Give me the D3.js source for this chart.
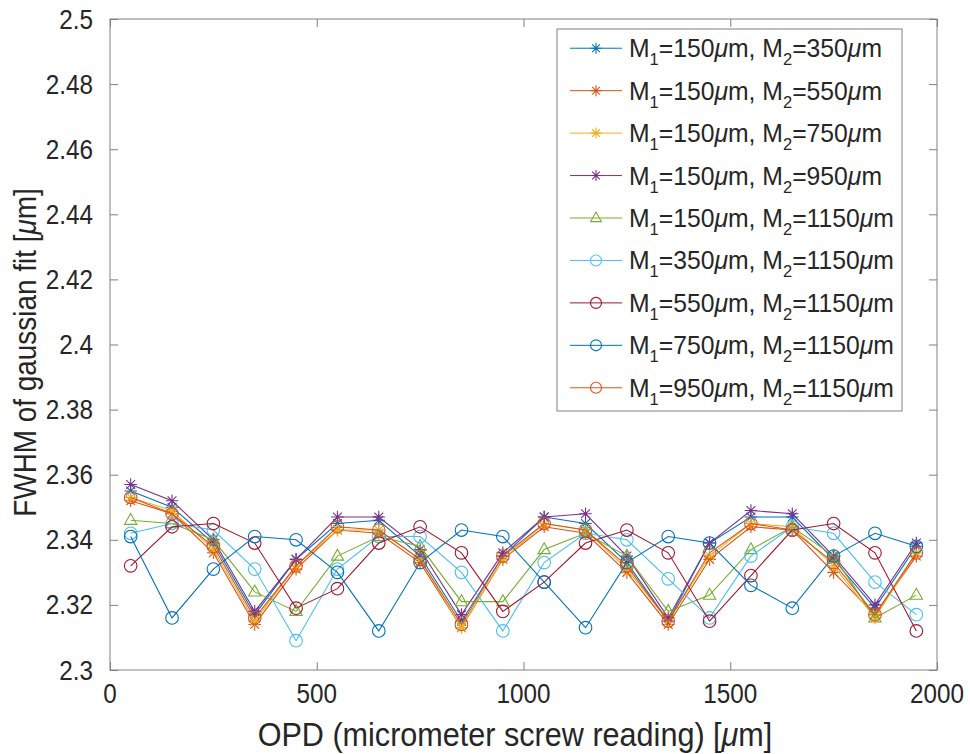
<!DOCTYPE html>
<html>
<head>
<meta charset="utf-8">
<script src="https://cdn.jsdelivr.net/npm/d3@7"></script>
<style>
  body { margin: 0; background: #fff; }
  text { font-family: "Liberation Sans", Arial, sans-serif; fill: #262626; }
</style>
</head>
<body>
<div id="chart"></div>
<script>
// OPD positions (micrometer screw reading)
const opd = [50, 150, 250, 350, 450, 550, 650, 750, 850, 950, 1050, 1150, 1250, 1350, 1450, 1550, 1650, 1750, 1850, 1950];

// FWHM values per mirror pair
const s150_350  = [2.355, 2.350, 2.339, 2.317, 2.334, 2.345, 2.346, 2.335, 2.315, 2.335, 2.347, 2.345, 2.333, 2.315, 2.339, 2.347, 2.347, 2.334, 2.319, 2.338];
const s150_550  = [2.352, 2.348, 2.336, 2.314, 2.331, 2.343, 2.342, 2.333, 2.313, 2.334, 2.344, 2.342, 2.330, 2.314, 2.334, 2.344, 2.343, 2.330, 2.317, 2.335];
const s150_750  = [2.353, 2.349, 2.337, 2.315, 2.332, 2.343, 2.343, 2.334, 2.313, 2.334, 2.345, 2.343, 2.331, 2.315, 2.335, 2.345, 2.344, 2.332, 2.316, 2.336];
const s150_950  = [2.357, 2.352, 2.340, 2.318, 2.334, 2.347, 2.347, 2.337, 2.317, 2.336, 2.347, 2.348, 2.335, 2.316, 2.339, 2.349, 2.348, 2.335, 2.320, 2.339];
const s150_1150 = [2.346, 2.345, 2.340, 2.324, 2.318, 2.335, 2.341, 2.338, 2.321, 2.321, 2.337, 2.342, 2.335, 2.318, 2.323, 2.337, 2.344, 2.335, 2.316, 2.323];
const s350_1150 = [2.342, 2.345, 2.343, 2.331, 2.309, 2.331, 2.341, 2.341, 2.330, 2.312, 2.333, 2.342, 2.340, 2.328, 2.316, 2.335, 2.344, 2.342, 2.327, 2.317];
const s550_1150 = [2.332, 2.344, 2.345, 2.339, 2.319, 2.325, 2.339, 2.344, 2.336, 2.318, 2.327, 2.339, 2.343, 2.336, 2.315, 2.329, 2.343, 2.345, 2.336, 2.312];
const s750_1150 = [2.341, 2.316, 2.331, 2.341, 2.340, 2.330, 2.312, 2.333, 2.343, 2.341, 2.327, 2.313, 2.333, 2.341, 2.339, 2.326, 2.319, 2.335, 2.342, 2.338];
const s950_1150 = [2.353, 2.348, 2.338, 2.316, 2.332, 2.344, 2.343, 2.334, 2.314, 2.335, 2.345, 2.343, 2.332, 2.315, 2.336, 2.345, 2.343, 2.333, 2.317, 2.336];

const m1List = ["150", "150", "150", "150", "150", "350", "550", "750", "950"];
const m2List = ["350", "550", "750", "950", "1150", "1150", "1150", "1150", "1150"];
const markerList = ["star", "star", "star", "star", "triangle", "circle", "circle", "circle", "circle"];
const colorList = ["#0072BD", "#D95319", "#EDB120", "#7E2F8E", "#77AC30", "#4DBEEE", "#A2142F", "#0072BD", "#D95319"];
const seriesValues = [s150_350, s150_550, s150_750, s150_950, s150_1150, s350_1150, s550_1150, s750_1150, s950_1150];

const xTicks = [0, 500, 1000, 1500, 2000];
const yTicks = [2.3, 2.32, 2.34, 2.36, 2.38, 2.4, 2.42, 2.44, 2.46, 2.48, 2.5];

const series = seriesValues.map((vals, i) => ({
    m1: m1List[i], m2: m2List[i], marker: markerList[i], color: colorList[i],
    points: vals.map((v, j) => ({ x: opd[j], y: v }))
}));

// Layout
const width = 970, height = 754;
const margin = { top: 19, right: 33, bottom: 84, left: 110 };
const innerW = width - margin.left - margin.right;
const innerH = height - margin.top - margin.bottom;

const svg = d3.select("#chart").append("svg")
    .attr("width", width).attr("height", height);
const g = svg.append("g").attr("transform", `translate(${margin.left},${margin.top})`);

const x = d3.scaleLinear().domain([0, 2000]).range([0, innerW]);
const y = d3.scaleLinear().domain([2.3, 2.5]).range([innerH, 0]);

const axisColor = "#808080";
const tickLen = 8;

// narrow text: a group placed at (px,py) with a horizontally scaled text inside
function narrowText(parent, px, py, size, anchor, squeeze, rotate) {
    const grp = parent.append("g")
        .attr("transform", `translate(${px},${py})` + (rotate ? ` rotate(${rotate})` : ""));
    return grp.append("text")
        .attr("transform", `scale(${squeeze},1)`)
        .attr("text-anchor", anchor)
        .style("font-size", size + "px");
}

// Axes (MATLAB style: box on, inward ticks)
const styleAxis = sel => {
    sel.select(".domain").remove();
    sel.selectAll(".tick line").attr("stroke", axisColor);
    sel.selectAll(".tick text").remove();
};

g.append("g").attr("transform", `translate(0,${innerH})`)
    .call(d3.axisBottom(x).tickValues(xTicks).tickSize(-tickLen)).call(styleAxis);
g.append("g")
    .call(d3.axisTop(x).tickValues(xTicks).tickSize(-tickLen)).call(styleAxis);
g.append("g")
    .call(d3.axisLeft(y).tickValues(yTicks).tickSize(-tickLen)).call(styleAxis);
g.append("g").attr("transform", `translate(${innerW},0)`)
    .call(d3.axisRight(y).tickValues(yTicks).tickSize(-tickLen)).call(styleAxis);

g.append("rect")
    .attr("width", innerW).attr("height", innerH)
    .attr("fill", "none").attr("stroke", axisColor).attr("stroke-width", 1);

// tick labels
xTicks.forEach(t => {
    narrowText(g, x(t), innerH + 33, 27, "middle", 0.9).text(d3.format("")(t));
});
yTicks.forEach(t => {
    narrowText(g, -17, y(t) + 9.5, 27, "end", 0.9).text(String(+t.toFixed(2)));
});

// Marker helpers
const starPath = r => `M${-r},0H${r}M0,${-r}V${r}M${-r * 0.7},${-r * 0.7}L${r * 0.7},${r * 0.7}M${-r * 0.7},${r * 0.7}L${r * 0.7},${-r * 0.7}`;
const triPath = r => `M0,${-r}L${r * 0.9},${r * 0.6}L${-r * 0.9},${r * 0.6}Z`;

function drawMarker(sel, type, color, r) {
    if (type === "star") {
        sel.append("path").attr("d", starPath(r)).attr("fill", "none").attr("stroke", color).attr("stroke-width", 1.1);
    } else if (type === "triangle") {
        sel.append("path").attr("d", triPath(r + 0.5)).attr("fill", "none").attr("stroke", color).attr("stroke-width", 1.1);
    } else {
        sel.append("circle").attr("r", r).attr("fill", "none").attr("stroke", color).attr("stroke-width", 1.1);
    }
}

const line = d3.line().x(d => x(d.x)).y(d => y(d.y));

const plot = g.append("g");
series.forEach(s => {
    const sg = plot.append("g");
    sg.append("path").datum(s.points)
        .attr("d", line).attr("fill", "none")
        .attr("stroke", s.color).attr("stroke-width", 1.1);
    sg.selectAll("g.mk").data(s.points).enter().append("g")
        .attr("class", "mk")
        .attr("transform", d => `translate(${x(d.x)},${y(d.y)})`)
        .each(function () { drawMarker(d3.select(this), s.marker, s.color, 6.3); });
});

// Axis labels
narrowText(svg, 515, 746, 34, "middle", 0.9)
    .call(t => {
        t.append("tspan").text("OPD (micrometer screw reading) [");
        t.append("tspan").style("font-style", "italic").text("μ");
        t.append("tspan").text("m]");
    });

narrowText(svg, 36, margin.top + innerH / 2 + 8, 31, "middle", 0.9, -90)
    .call(t => {
        t.append("tspan").text("FWHM of gaussian fit [");
        t.append("tspan").style("font-style", "italic").text("μ");
        t.append("tspan").text("m]");
    });

// Legend
const legX = 557, legY = 29, legW = 345, legH = 382;
const rowH = legH / series.length;
const legend = svg.append("g").attr("transform", `translate(${legX},${legY})`);
legend.append("rect")
    .attr("width", legW).attr("height", legH)
    .attr("fill", "#fff").attr("stroke", axisColor).attr("stroke-width", 1);

series.forEach((s, i) => {
    const cy = rowH * (i + 0.5) - 2;
    const item = legend.append("g").attr("transform", `translate(0,${cy})`);
    item.append("line").attr("x1", 13).attr("x2", 65).attr("y1", 0).attr("y2", 0)
        .attr("stroke", s.color).attr("stroke-width", 1);
    const mk = item.append("g").attr("transform", "translate(39,0)");
    drawMarker(mk, s.marker, s.color, 5.5);
    const txt = narrowText(item, 72, 9, 25.5, "start", 0.97);
    txt.append("tspan").text("M");
    txt.append("tspan").attr("dy", 8).style("font-size", "17px").text("1");
    txt.append("tspan").attr("dy", -8).text(`=${s.m1}`);
    txt.append("tspan").style("font-style", "italic").text("μ");
    txt.append("tspan").text("m, M");
    txt.append("tspan").attr("dy", 8).style("font-size", "17px").text("2");
    txt.append("tspan").attr("dy", -8).text(`=${s.m2}`);
    txt.append("tspan").style("font-style", "italic").text("μ");
    txt.append("tspan").text("m");
});
</script>
</body>
</html>
